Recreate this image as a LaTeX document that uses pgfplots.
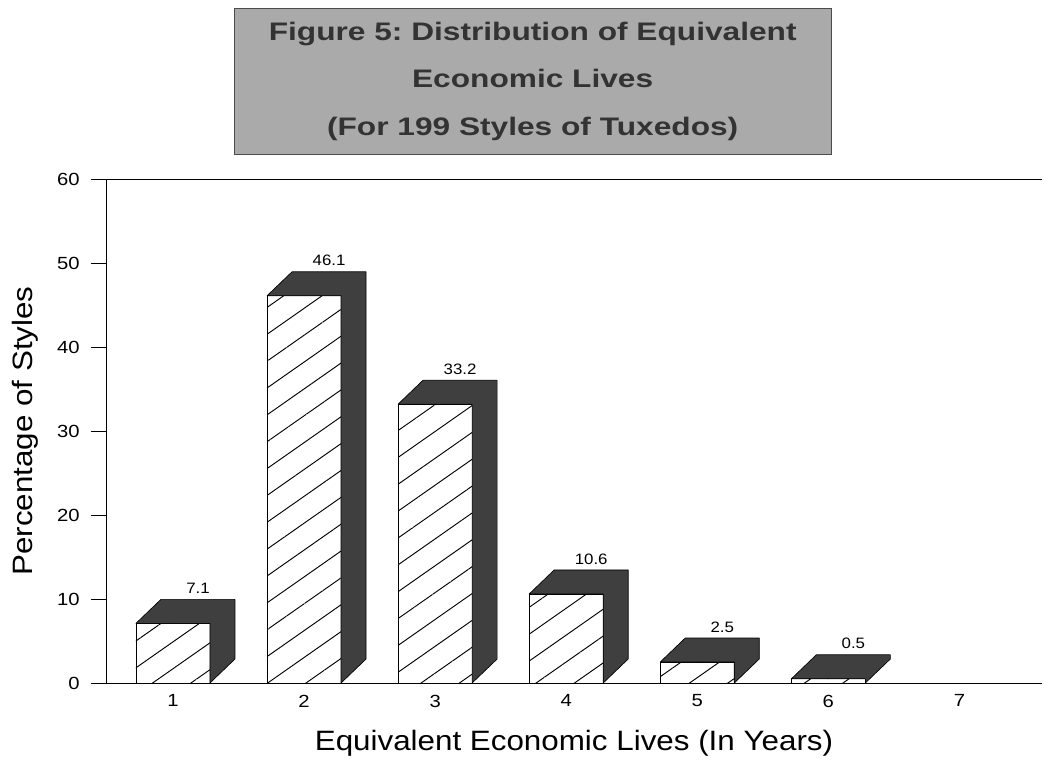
\documentclass[border=0pt]{standalone}
\usepackage{fontspec}
\setmainfont{Liberation Sans}
\newfontfamily\widefont[FakeStretch=1.12]{Liberation Sans}
\newfontfamily\tickfont[FakeStretch=1.15]{Liberation Sans}
\newfontfamily\titlefont[FakeStretch=1.25]{Liberation Sans}
\usepackage{pgfplots}
\usepackage{pgfplotstable}
\pgfplotsset{compat=1.18}
\usetikzlibrary{patterns.meta}
\definecolor{barside}{HTML}{3F3F3F}
\definecolor{titlebg}{HTML}{AAAAAA}

\pgfplotstableread{
x y
1 7.1
2 46.1
3 33.2
4 10.6
5 2.5
6 0.5
}\data

\begin{document}
\frenchspacing
\begin{tikzpicture}
\begin{axis}[
  name=ax,
  scale only axis,
  width=702pt, height=378pt,
  xmin=0.489, xmax=7.63,
  ymin=0, ymax=60,
  axis y line*=left,
  axis x line*=box,
  clip=false,
  xtick={1,2,3,4,5,6,7},
  ytick={0,10,20,30,40,50,60},
  tick align=outside,
  major tick length=11.25pt,
  xtick style={draw=none},
  ytick style={black, line width=0.6pt},
  axis line style={black, line width=0.6pt},
  /pgf/number format/assume math mode=true,
  tick label style={font=\tickfont\fontsize{13.2}{15}\selectfont},
  yticklabel style={xshift=-5pt},
  xticklabel style={yshift=6pt},
  every axis y label/.style={at={(axis description cs:-0.0865,0.5)}, rotate=90, anchor=center, font=\widefont\fontsize{21}{24}\selectfont},
  every axis x label/.style={at={(axis description cs:0.5,-0.119)}, anchor=center, font=\widefont\fontsize{21}{24}\selectfont},
  ylabel={Percentage of Styles},
  xlabel={Equivalent Economic Lives (In Years)},
]
% 3D extrusion (top and side faces) drawn at each data point
\addplot[
  scatter, only marks, mark=*, mark size=0.01pt,
  visualization depends on={rawy \as \rawv},
  scatter/@pre marker code/.code={%
    \pgfmathsetmacro\hh{\rawv*6.3}%
    \pgfmathsetmacro\bb{18.0-\hh}%
    \filldraw[fill=barside, draw=black, line width=0.5pt, line join=round]
      (-27.75pt,0pt) -- (-9pt,18pt) -- (46.5pt,18pt) -- (46.5pt,\bb pt)
      -- (27.75pt,-\hh pt) -- (27.75pt,0pt) -- cycle;
  },
  scatter/@post marker code/.code={},
] table[x=x, y=y] {\data};
% front faces
\addplot[
  ybar, bar width=55.5pt, bar shift=0pt,
  draw=black, line width=0.6pt, fill=white,
  postaction={pattern={Lines[angle=35, distance=16.5pt, line width=0.7pt]}},
  nodes near coords,
  /pgf/number format/fixed, /pgf/number format/fixed zerofill, /pgf/number format/precision=1,
  every node near coord/.append style={font=\widefont\fontsize{11.3}{13}\selectfont, anchor=south, inner sep=0pt, xshift=18.75pt, yshift=22pt, text=black},
] table[x=x, y=y] {\data};
\end{axis}
\node[fill=titlebg, draw=black!70, line width=0.5pt, minimum width=448pt, minimum height=110pt,
      align=center, font=\titlefont\fontsize{19}{35.5}\selectfont\bfseries, text=black!80, anchor=south]
  at ([xshift=-31pt, yshift=18pt]ax.north) {Figure 5: Distribution of Equivalent\\Economic Lives\\(For 199 Styles of Tuxedos)};
\pgfresetboundingbox
\path ([shift={(-79.5pt,-60pt)}]ax.south west) rectangle ([shift={(1.5pt,134.25pt)}]ax.north east);
\end{tikzpicture}
\end{document}
